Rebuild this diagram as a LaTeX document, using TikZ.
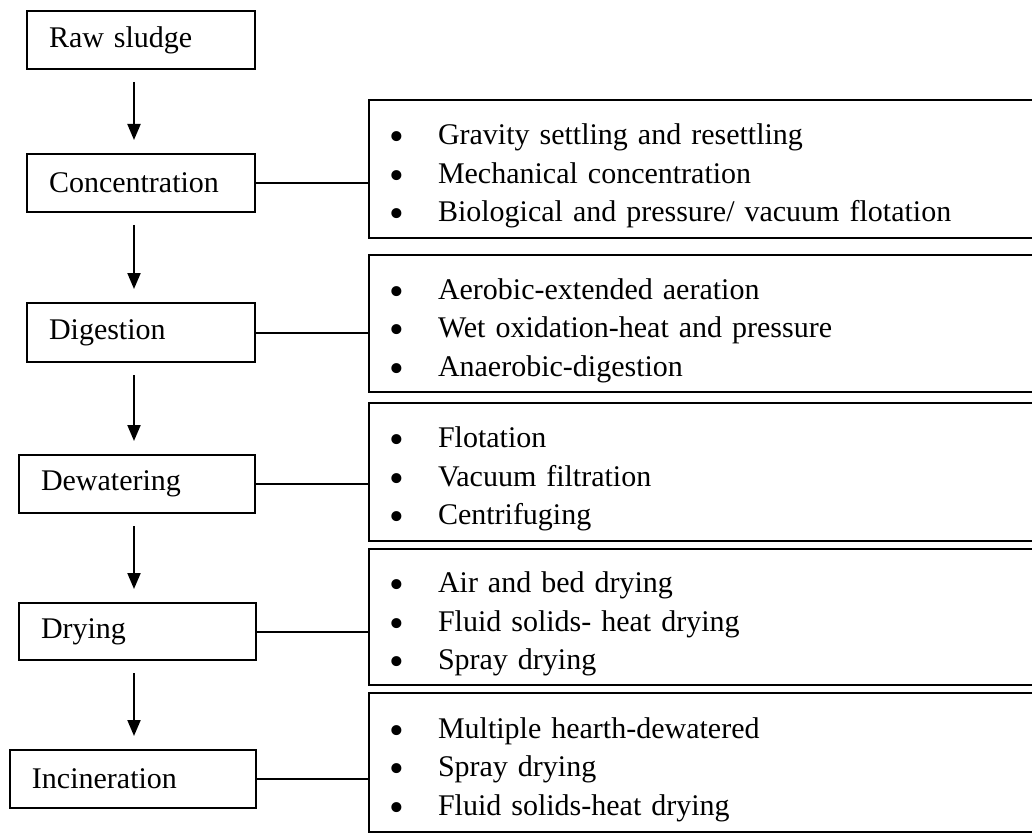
\documentclass[tikz,border=0pt]{standalone}
\usepackage{fontspec}
\setmainfont{Liberation Serif}
\usetikzlibrary{arrows.meta}
\newcommand{\bitem}[1]{\makebox[24.5pt][l]{\smash{\raisebox{-0.2em}{\scalebox{1.4}{\textbullet}}}}#1}
\tikzset{%
  >={Triangle[width=6.5pt,length=8pt]},
  % Specifications for style of nodes:
  base/.style = {
    rectangle,
    draw=black,
    line width=1pt,
    anchor=north west,
    align=left,
    inner ysep=0pt,
    font=\fontsize{15}{19.25}\selectfont
  },
  stage/.style = {base, inner xsep=11pt, minimum height=29pt},
  methods/.style = {base, inner xsep=10pt, text width=318pt,
    execute at begin node=\rule{0pt}{17.5pt}},
  flow/.style = {->, line width=1pt, shorten <=6pt, shorten >=6.5pt},
}

\begin{document}
\begin{tikzpicture}[
  x=0.5pt, y=-0.5pt,
  line width=1pt]
  \useasboundingbox (0,0) rectangle (1032,834);
  \clip (0,0) rectangle (1032,834);
  % nodes
  \node (raw)  [stage, text width=92pt] at (26,10) {Raw sludge};
  \node (conc) [stage, text width=92pt] at (26,153) {Concentration};
  \node (dig)  [stage, text width=92pt, minimum height=29.5pt] at (26,302) {Digestion};
  \node (dew)  [stage, text width=96pt] at (18,454) {Dewatering};
  \node (dry)  [stage, text width=96.5pt, minimum height=28.5pt] at (18,602) {Drying};
  \node (inc)  [stage, text width=101pt] at (9,749) {Incineration};
  \coordinate (ax) at (134,0);
  % method boxes
  \node (m1) [methods, minimum height=69pt] at (368,99)
  {\bitem{Gravity settling and resettling}\\
   \bitem{Mechanical concentration}\\
   \bitem{Biological and pressure/ vacuum flotation}};
  \node (m2) [methods, minimum height=68.5pt] at (368,254)
  {\bitem{Aerobic-extended aeration}\\
   \bitem{Wet oxidation-heat and pressure}\\
   \bitem{Anaerobic-digestion}};
  \node (m3) [methods, minimum height=69pt] at (368,402)
  {\bitem{Flotation}\\
   \bitem{Vacuum filtration}\\
   \bitem{Centrifuging}};
  \node (m4) [methods, minimum height=68pt] at (368,548)
  {\bitem{Air and bed drying}\\
   \bitem{Fluid solids- heat drying}\\
   \bitem{Spray drying}};
  \node (m5) [methods, minimum height=69.5pt] at (368,692)
  {\bitem{Multiple hearth-dewatered}\\
   \bitem{Spray drying}\\
   \bitem{Fluid solids-heat drying}};
  % lines
  \draw[flow] (raw.south -| ax) -- (conc.north -| ax);
  \draw[flow] (conc.south -| ax) -- (dig.north -| ax);
  \draw[flow] (dig.south -| ax) -- (dew.north -| ax);
  \draw[flow] (dew.south -| ax) -- (dry.north -| ax);
  \draw[flow] (dry.south -| ax) -- (inc.north -| ax);
  \draw (conc.east) -- (conc.east -| m1.west);
  \draw (dig.east) -- (dig.east -| m2.west);
  \draw (dew.east) -- (dew.east -| m3.west);
  \draw (dry.east) -- (dry.east -| m4.west);
  \draw (inc.east) -- (inc.east -| m5.west);
\end{tikzpicture}
\end{document}
